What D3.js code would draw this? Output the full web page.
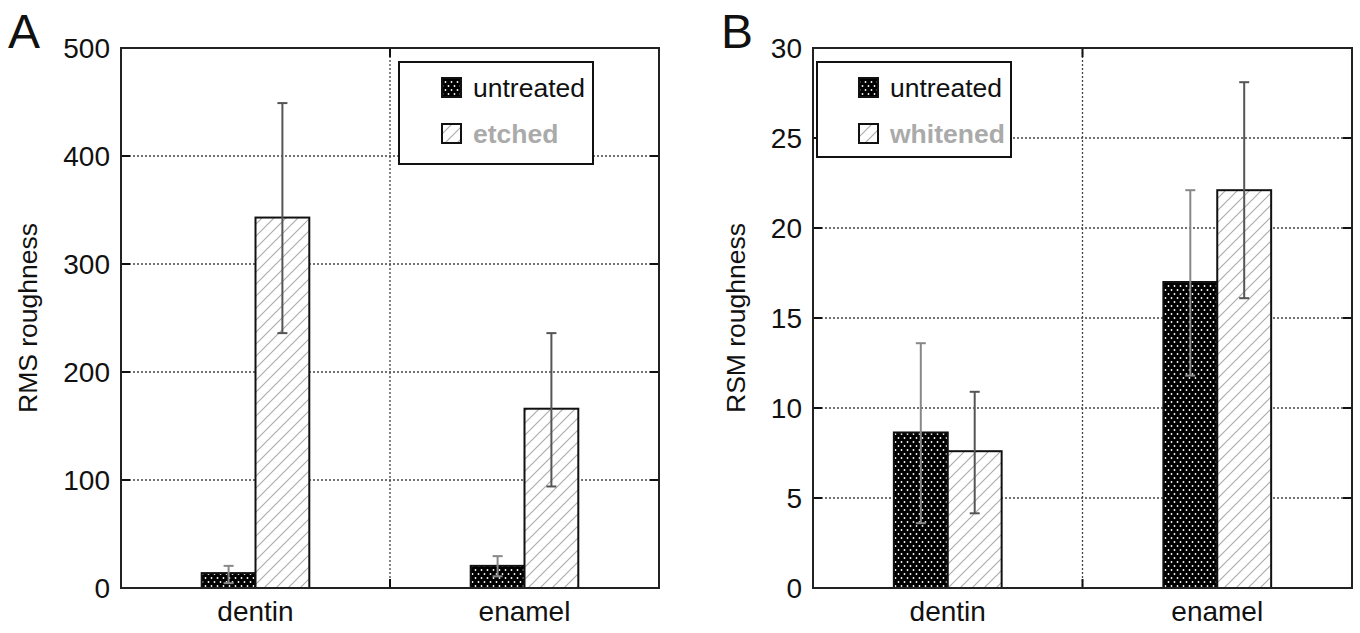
<!DOCTYPE html>
<html>
<head>
<meta charset="utf-8">
<script src="https://cdn.jsdelivr.net/npm/d3@7"></script>
<style>
  html, body { margin: 0; padding: 0; background: #fff; }
  svg { display: block; font-family: "Liberation Sans", Arial, Helvetica, sans-serif; }
</style>
</head>
<body>
<svg id="chart" width="1360" height="633"></svg>
<script>
// ---------- DATA ----------
const categories = ["dentin", "enamel"];

const seriesA = ["untreated", "etched"];
const aUntreated = [13.8, 20.5];
const aUntreatedLo = [4.5, 10.8];
const aUntreatedHi = [20.5, 29.5];
const aEtched = [343, 166];
const aEtchedLo = [236, 94];
const aEtchedHi = [449, 236];
const ticksA = [0, 100, 200, 300, 400, 500];

const seriesB = ["untreated", "whitened"];
const bUntreated = [8.64, 17.0];
const bUntreatedLo = [3.6, 11.8];
const bUntreatedHi = [13.6, 22.1];
const bWhitened = [7.6, 22.1];
const bWhitenedLo = [4.15, 16.1];
const bWhitenedHi = [10.9, 28.1];
const ticksB = [0, 5, 10, 15, 20, 25, 30];

// ---------- DRAW ----------
const svg = d3.select("#chart");
const defs = svg.append("defs");

// dotted pattern (black with white dots)
const pd = defs.append("pattern").attr("id", "dots")
  .attr("patternUnits", "userSpaceOnUse").attr("width", 6).attr("height", 8);
pd.append("rect").attr("width", 6).attr("height", 8).attr("fill", "#000");
pd.append("circle").attr("cx", 1.5).attr("cy", 2).attr("r", 0.9).attr("fill", "#fff");
pd.append("circle").attr("cx", 4.5).attr("cy", 6).attr("r", 0.9).attr("fill", "#fff");

// hatch pattern
const ph = defs.append("pattern").attr("id", "hatch")
  .attr("patternUnits", "userSpaceOnUse").attr("width", 12).attr("height", 12);
ph.append("rect").attr("width", 12).attr("height", 12).attr("fill", "#fff");
ph.append("path").attr("d", "M-3,3 L3,-3 M0,12 L12,0 M9,15 L15,9")
  .attr("stroke", "#aaa").attr("stroke-width", 1.1);

function panel(cfg) {
  const g = svg.append("g");
  const { left, right, top, bottom } = cfg;
  const y = d3.scaleLinear().domain([cfg.ticks[0], cfg.ticks[cfg.ticks.length - 1]]).range([bottom, top]);
  const x = d3.scaleBand().domain(categories).range([left, right]).padding(0);
  const xs = d3.scaleBand().domain(cfg.series).range([0, x.bandwidth()]).paddingInner(0).paddingOuter(1.5);

  // gridlines (horizontal)
  g.append("g").selectAll("line").data(cfg.ticks.slice(1, -1)).join("line")
    .attr("x1", left).attr("x2", right)
    .attr("y1", d => y(d)).attr("y2", d => y(d))
    .attr("stroke", "#444").attr("stroke-width", 1.3).attr("stroke-dasharray", "2,2");
  // vertical gridline between categories
  const midX = x(categories[1]);
  g.append("line").attr("x1", midX).attr("x2", midX).attr("y1", top).attr("y2", bottom)
    .attr("stroke", "#444").attr("stroke-width", 1.3).attr("stroke-dasharray", "2,2");

  // ticks inward on left & right
  g.append("g").selectAll("line").data(cfg.ticks).join("line")
    .attr("x1", left).attr("x2", left + 9)
    .attr("y1", d => y(d)).attr("y2", d => y(d)).attr("stroke", "#111").attr("stroke-width", 2);
  g.append("g").selectAll("line").data(cfg.ticks).join("line")
    .attr("x1", right - 9).attr("x2", right)
    .attr("y1", d => y(d)).attr("y2", d => y(d)).attr("stroke", "#111").attr("stroke-width", 2);
  g.append("line").attr("x1", midX).attr("x2", midX).attr("y1", bottom).attr("y2", bottom - 9)
    .attr("stroke", "#111").attr("stroke-width", 2);
  g.append("line").attr("x1", midX).attr("x2", midX).attr("y1", top).attr("y2", top + 9)
    .attr("stroke", "#111").attr("stroke-width", 2);

  // bars
  const fills = ["url(#dots)", "url(#hatch)"];
  cfg.series.forEach((s, si) => {
    const vals = cfg.values[si];
    g.append("g").selectAll("rect").data(categories).join("rect")
      .attr("x", (c) => x(c) + xs(s))
      .attr("width", xs.bandwidth())
      .attr("y", (c, i) => y(vals[i]))
      .attr("height", (c, i) => y(0) - y(vals[i]))
      .attr("fill", fills[si]).attr("stroke", "#111").attr("stroke-width", 2);
  });
  // error bars
  const ecol = ["#888", "#555"];
  cfg.series.forEach((s, si) => {
    const lo = cfg.lo[si], hi = cfg.hi[si];
    const eg = g.append("g").attr("stroke", ecol[si]).attr("stroke-width", 2);
    categories.forEach((c, i) => {
      const cx = x(c) + xs(s) + xs.bandwidth() / 2;
      eg.append("line").attr("x1", cx).attr("x2", cx).attr("y1", y(lo[i])).attr("y2", y(hi[i]));
      eg.append("line").attr("x1", cx - 5).attr("x2", cx + 5).attr("y1", y(lo[i])).attr("y2", y(lo[i]));
      eg.append("line").attr("x1", cx - 5).attr("x2", cx + 5).attr("y1", y(hi[i])).attr("y2", y(hi[i]));
    });
  });

  // frame
  g.append("rect").attr("x", left).attr("y", top).attr("width", right - left).attr("height", bottom - top)
    .attr("fill", "none").attr("stroke", "#222").attr("stroke-width", 2);

  // tick labels
  g.append("g").selectAll("text").data(cfg.ticks).join("text")
    .attr("x", left - 11).attr("y", d => y(d)).attr("dy", "0.36em")
    .attr("text-anchor", "end").attr("font-size", 28).attr("fill", "#111")
    .text(d => d);
  // category labels
  g.append("g").selectAll("text").data(categories).join("text")
    .attr("x", c => x(c) + x.bandwidth() / 2).attr("y", bottom + 33)
    .attr("text-anchor", "middle").attr("font-size", 28).attr("fill", "#111")
    .text(c => c);
  // y axis label
  g.append("text").attr("transform", `translate(${cfg.ylabX},${(top + bottom) / 2}) rotate(-90)`)
    .attr("text-anchor", "middle").attr("font-size", 26.5).attr("fill", "#111")
    .text(cfg.ylabel);
  // panel letter
  g.append("text").attr("x", cfg.letterX).attr("y", 48).attr("font-size", 48).attr("fill", "#111")
    .text(cfg.letter);

  // legend
  const L = cfg.legend;
  const lg = g.append("g");
  lg.append("rect").attr("x", L.x).attr("y", L.y).attr("width", L.w).attr("height", L.h)
    .attr("fill", "#fff").attr("stroke", "#111").attr("stroke-width", 2);
  const lcol = ["#111", "#aaa"];
  cfg.series.forEach((s, si) => {
    const yy = L.y + 25 + si * 46;
    lg.append("rect").attr("x", L.sx).attr("y", yy - 9).attr("width", 19).attr("height", 19)
      .attr("fill", fills[si]).attr("stroke", "#111").attr("stroke-width", 2);
    lg.append("text").attr("x", L.sx + 31).attr("y", yy).attr("dy", "0.36em")
      .attr("font-size", 26.5).attr("fill", lcol[si])
      .attr("font-weight", si === 1 ? "bold" : "normal")
      .text(s);
  });
}

panel({
  left: 121, right: 659, top: 48, bottom: 588,
  ticks: ticksA, series: seriesA,
  values: [aUntreated, aEtched], lo: [aUntreatedLo, aEtchedLo], hi: [aUntreatedHi, aEtchedHi],
  ylabel: "RMS roughness", ylabX: 37, letter: "A", letterX: 8,
  legend: { x: 399, y: 62, w: 194, h: 102, sx: 442 }
});
panel({
  left: 813, right: 1352, top: 48, bottom: 588,
  ticks: ticksB, series: seriesB,
  values: [bUntreated, bWhitened], lo: [bUntreatedLo, bWhitenedLo], hi: [bUntreatedHi, bWhitenedHi],
  ylabel: "RSM roughness", ylabX: 745, letter: "B", letterX: 721,
  legend: { x: 817, y: 62, w: 194, h: 95, sx: 859 }
});
</script>
</body>
</html>
